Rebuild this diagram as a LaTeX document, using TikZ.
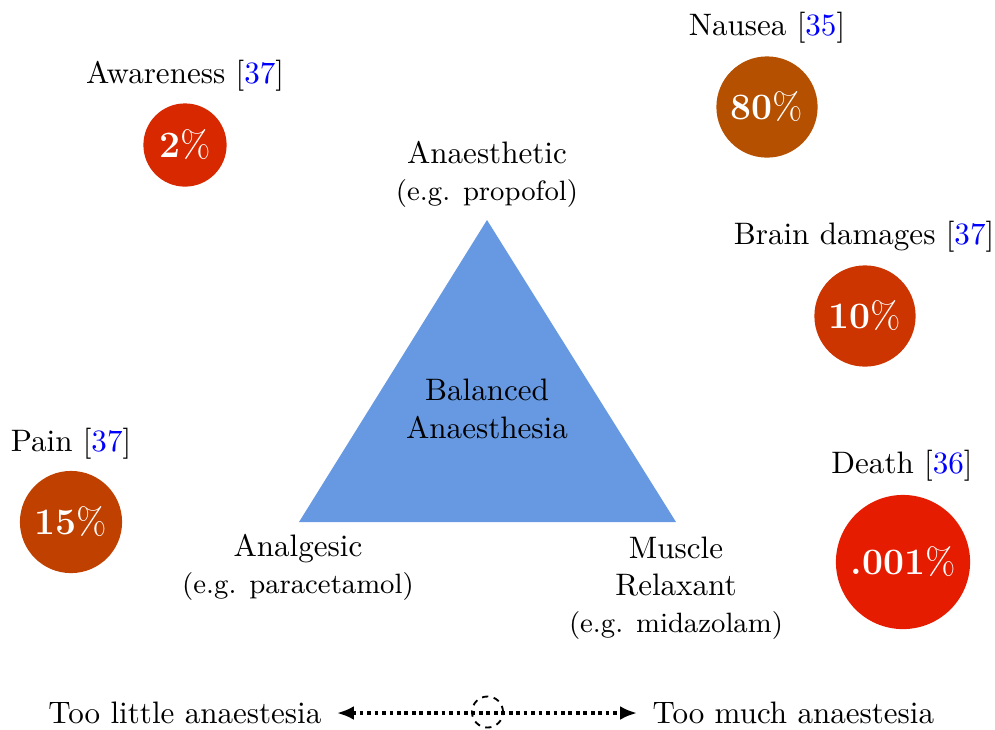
\documentclass[tikz,border=0pt]{standalone}
\usetikzlibrary{arrows.meta}
\definecolor{triblue}{RGB}{102,153,226}
\definecolor{cAware}{RGB}{216,40,0}
\definecolor{cNausea}{RGB}{180,80,0}
\definecolor{cBrain}{RGB}{204,52,0}
\definecolor{cPain}{RGB}{192,64,0}
\definecolor{cDeath}{RGB}{230,28,0}
\newcommand{\refc}[1]{[\textcolor{blue}{#1}]}
\newcommand{\pct}[1]{\textbf{#1}\%}
\newcommand{\eg}[1]{{\small (e.g. #1)}}
\begin{document}
\begin{tikzpicture}[x=0.322pt,y=-0.322pt,
  lbl/.style={align=center,inner sep=0pt},
  risk/.style={circle,inner sep=0pt,text=white,font=\large},
  dotline/.style={line width=1.3pt,dash pattern=on 1.2pt off 1.2pt,{Latex[length=5.5pt,width=4.5pt]}-{Latex[length=5.5pt,width=4.5pt]}}]
\useasboundingbox (0,0) rectangle (995,729);
% triangle
\coordinate (top) at (487,220);
\coordinate (bl) at (299,522);
\coordinate (br) at (676,522);
\fill[triblue] (top) -- (bl) -- (br) -- cycle;
\node[lbl] (bal) at (487,409) {Balanced\\Anaesthesia};
\node[lbl] (anaes) at (487,174) {Anaesthetic\\\eg{propofol}};
\node[lbl] (analg) at (298,567) {Analgesic\\\eg{paracetamol}};
\node[lbl] (muscle) at (676,588) {Muscle\\Relaxant\\\eg{midazolam}};
% risks
\node[lbl] (awareL) at (185,76) {Awareness \refc{37}};
\node[risk,fill=cAware,minimum size=26.8pt] (aware) at (185,145) {\pct{2}};
\node[lbl] (nauseaL) at (767,28) {Nausea \refc{35}};
\node[risk,fill=cNausea,minimum size=32.6pt] (nausea) at (767,107) {\pct{80}};
\node[lbl] (brainL) at (864,237) {Brain damages \refc{37}};
\node[risk,fill=cBrain,minimum size=32.6pt] (brain) at (865,316) {\pct{10}};
\node[lbl] (painL) at (71,444) {Pain \refc{37}};
\node[risk,fill=cPain,minimum size=32.9pt] (pain) at (71,522) {\pct{15}};
\node[lbl] (deathL) at (902,466) {Death \refc{36}};
\node[risk,fill=cDeath,minimum size=43.2pt] (death) at (903,562) {\pct{.001}};
% bottom scale
\node[inner sep=0pt,anchor=east] (little) at (322,713) {Too little anaestesia};
\node[inner sep=0pt,anchor=west] (much) at (652,713) {Too much anaestesia};
\draw[dotline,shorten <=4.8pt,shorten >=4.8pt] (little.east) -- (much.west);
\node[circle,draw,dash pattern=on 2pt off 1.8pt,line width=0.6pt,minimum size=10pt,inner sep=0pt] (mid) at (487.5,712) {};
\end{tikzpicture}
\end{document}
